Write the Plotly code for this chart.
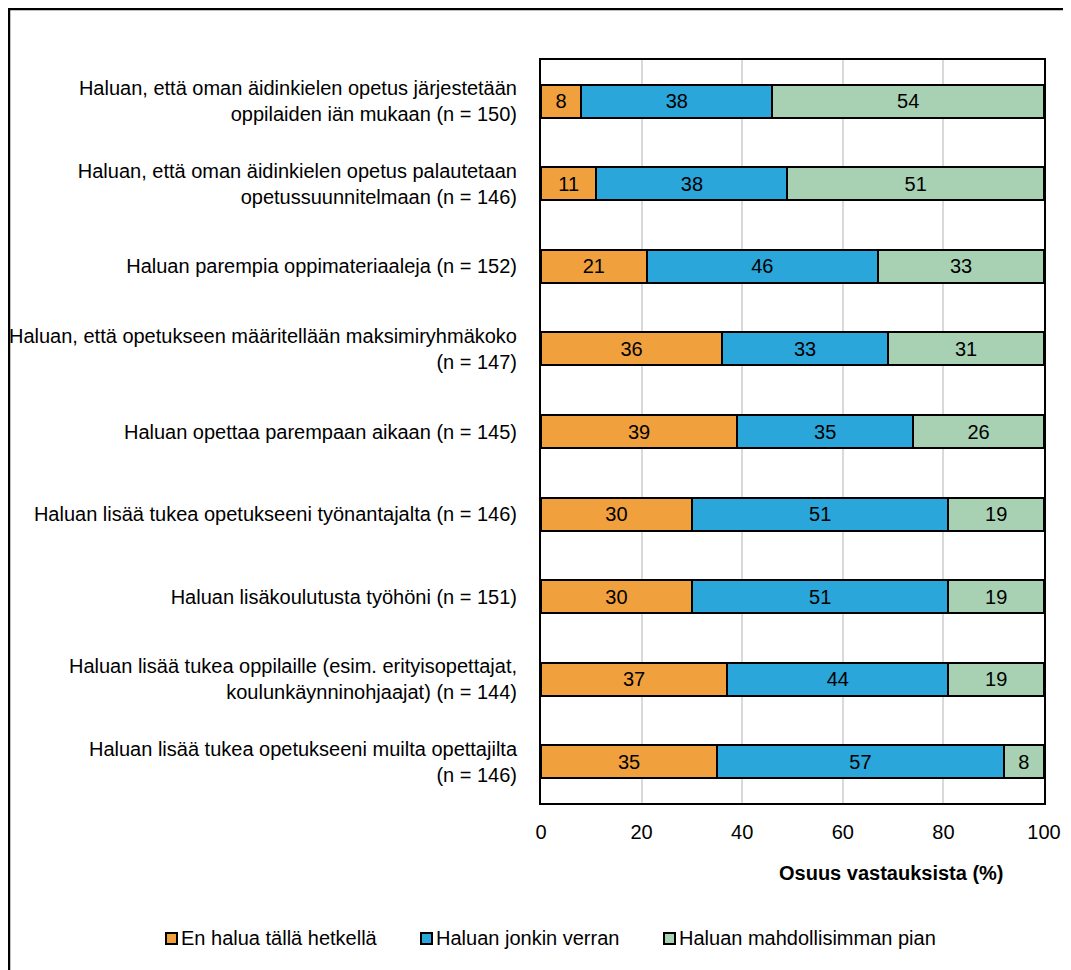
import plotly.graph_objects as go

categories = [
    "Haluan, että oman äidinkielen opetus järjestetään<br>oppilaiden iän mukaan (n = 150)",
    "Haluan, että oman äidinkielen opetus palautetaan<br>opetussuunnitelmaan (n = 146)",
    "Haluan parempia oppimateriaaleja (n = 152)",
    "Haluan, että opetukseen määritellään maksimiryhmäkoko<br>(n = 147)",
    "Haluan opettaa parempaan aikaan (n = 145)",
    "Haluan lisää tukea opetukseeni työnantajalta (n = 146)",
    "Haluan lisäkoulutusta työhöni (n = 151)",
    "Haluan lisää tukea oppilaille (esim. erityisopettajat,<br>koulunkäynninohjaajat) (n = 144)",
    "Haluan lisää tukea opetukseeni muilta opettajilta<br>(n = 146)",
]
series_names = ["En halua tällä hetkellä", "Haluan jonkin verran", "Haluan mahdollisimman pian"]
en_halua = [8, 11, 21, 36, 39, 30, 30, 37, 35]
jonkin_verran = [38, 38, 46, 33, 35, 51, 51, 44, 57]
mahd_pian = [54, 51, 33, 31, 26, 19, 19, 19, 8]
x_ticks = [0, 20, 40, 60, 80, 100]
x_title = "Osuus vastauksista (%)"

colors = ["#F0A13E", "#2AA6DA", "#A8D1B3"]
FONT = "Liberation Sans, Arial, sans-serif"
FS = 20

fig = go.Figure()
for name, vals, col in zip(series_names, [en_halua, jonkin_verran, mahd_pian], colors):
    fig.add_trace(go.Bar(
        y=categories, x=vals, name=name, orientation="h",
        marker=dict(color=col, line=dict(color="black", width=2)),
        text=[str(v) for v in vals], textposition="inside",
        insidetextanchor="middle", textangle=0, constraintext="none",
        textfont=dict(family=FONT, size=FS, color="black"),
        hoverinfo="x+name", showlegend=False,
    ))

W, H = 1063, 962
L, R, T, B = 533, 27, 52, 167
pw = W - L - R
ph = H - T - B


def px_x(x):
    return (x - L) / pw


def px_y(y):
    return (H - B - y) / ph


fig.update_layout(
    width=W, height=H, barmode="stack", bargap=0.6,
    margin=dict(l=L, r=R, t=T, b=B, autoexpand=False),
    paper_bgcolor="white", plot_bgcolor="white",
    font=dict(family=FONT, size=FS, color="black"),
    xaxis=dict(range=[0, 100], tickvals=x_ticks, showgrid=True, gridcolor="#D9D9D9",
               gridwidth=2, showline=True, linecolor="black", linewidth=2, mirror=True,
               zeroline=False, ticks="", ticklabelstandoff=10,
               tickfont=dict(family=FONT, size=FS, color="black")),
    yaxis=dict(autorange="reversed", showline=True, linecolor="black", linewidth=2,
               mirror=True, ticks="", ticklabelstandoff=18,
               tickfont=dict(family=FONT, size=FS, color="black")),
    showlegend=False,
)

# axis title (bold, right of centre as in the reference)
fig.add_annotation(text="<b>" + x_title + "</b>", xref="paper", yref="paper",
                   x=px_x(883), y=px_y(865), showarrow=False,
                   xanchor="center", yanchor="middle",
                   font=dict(family=FONT, size=FS, color="black"))

# custom legend: squares with black border + labels
legend_text_x = [172, 427, 670]
legend_y = 930
for name, col, tx in zip(series_names, colors, legend_text_x):
    fig.add_shape(type="rect", xref="paper", yref="paper",
                  x0=px_x(tx - 14), x1=px_x(tx - 3),
                  y0=px_y(legend_y + 6), y1=px_y(legend_y - 5),
                  line=dict(color="black", width=2), fillcolor=col)
    fig.add_annotation(text=name, xref="paper", yref="paper",
                       x=px_x(tx - 1), y=px_y(legend_y), showarrow=False,
                       xanchor="left", yanchor="middle",
                       font=dict(family=FONT, size=FS, color="black"))

# outer chart border (top and left edges visible in the reference)
fig.add_shape(type="line", xref="paper", yref="paper",
              x0=px_x(1), x1=px_x(1), y0=px_y(0), y1=px_y(H + 5),
              line=dict(color="black", width=2.5))
fig.add_shape(type="line", xref="paper", yref="paper",
              x0=px_x(0), x1=px_x(W + 5), y0=px_y(1), y1=px_y(1),
              line=dict(color="black", width=2.5))

fig.write_html("out.html")
